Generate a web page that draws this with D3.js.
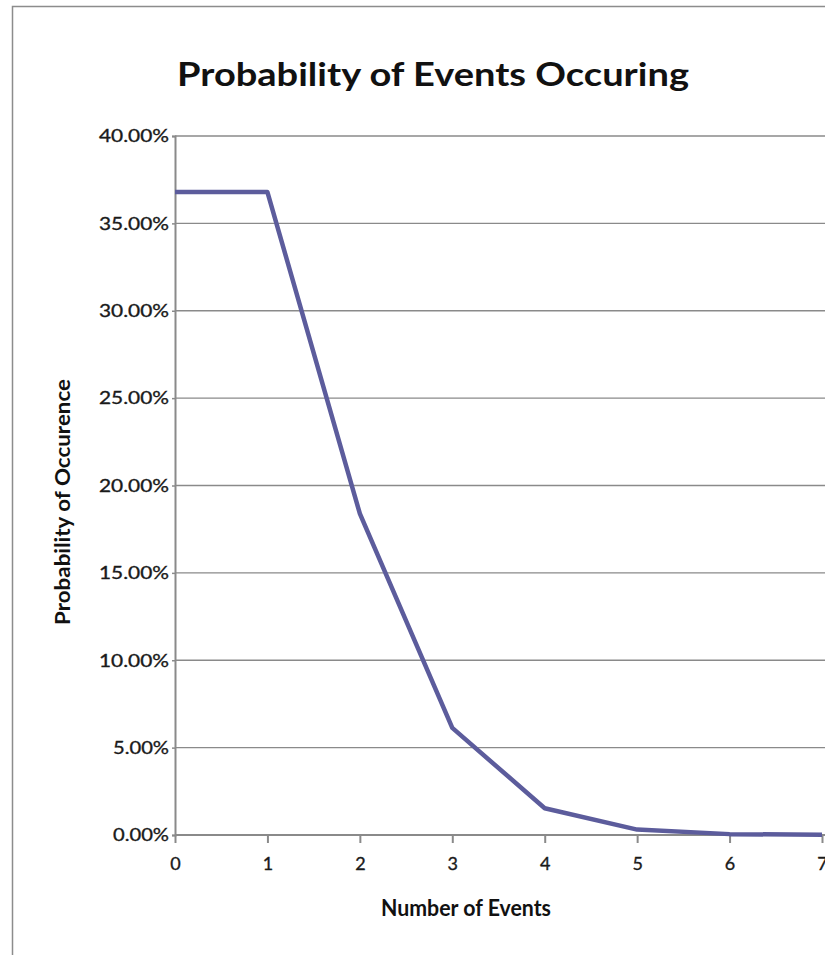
<!DOCTYPE html>
<html>
<head>
<meta charset="utf-8">
<script src="https://cdn.jsdelivr.net/npm/d3@7"></script>
<style>
  html, body { margin: 0; padding: 0; background: #fff; }
  svg { display: block; }
</style>
</head>
<body>
<svg id="chart" width="825" height="955"></svg>
<script>
// Number of events and the probability (%) of each count
const events = [0, 1, 2, 3, 4, 5, 6, 7];
const probability = [36.79, 36.79, 18.39, 6.13, 1.53, 0.31, 0.05, 0.01];
const yTicks = [0, 5, 10, 15, 20, 25, 30, 35, 40];

(function draw() {
  const svg = d3.select("#chart");
  const W = 825;
  const plotLeft = 175, plotRight = 822, plotTop = 136, plotBottom = 835;
  const font = "Lato, sans-serif";

  // Outer frame
  svg.append("rect")
    .attr("x", 12.5).attr("y", 6.5)
    .attr("width", 900).attr("height", 1000)
    .attr("fill", "none").attr("stroke", "#8c8c8c").attr("stroke-width", 1.5);

  const x = d3.scaleLinear().domain([0, 7]).range([plotLeft, plotRight]);
  const y = d3.scaleLinear().domain([0, 40]).range([plotBottom, plotTop]);

  // Horizontal gridlines
  svg.append("g")
    .selectAll("line")
    .data(yTicks)
    .join("line")
    .attr("x1", plotLeft).attr("x2", W)
    .attr("y1", d => y(d)).attr("y2", d => y(d))
    .attr("stroke", "#8a8a8a").attr("stroke-width", 1.4);

  // Y axis
  const yAxis = svg.append("g")
    .attr("transform", `translate(${plotLeft},0)`)
    .call(d3.axisLeft(y).tickValues(yTicks).tickSize(3).tickPadding(3)
      .tickFormat(d => d.toFixed(2) + "%"));
  yAxis.select(".domain").attr("stroke", "#8a8a8a").attr("stroke-width", 2);
  yAxis.selectAll(".tick line").attr("stroke", "#8a8a8a").attr("stroke-width", 1.5);
  yAxis.selectAll("text")
    .attr("font-family", font).attr("font-size", 18)
    .attr("fill", "#1a1a1a").attr("stroke", "#1a1a1a").attr("stroke-width", 0.35)
    .attr("textLength", d => d >= 10 ? 70 : 56)
    .attr("lengthAdjust", "spacingAndGlyphs");

  // X axis
  const xAxis = svg.append("g")
    .attr("transform", `translate(0,${plotBottom})`)
    .call(d3.axisBottom(x).tickValues(events).tickSize(8).tickPadding(14)
      .tickFormat(d3.format("d")));
  xAxis.select(".domain").attr("stroke", "#8a8a8a").attr("stroke-width", 2)
    .attr("d", `M${plotLeft},0H${W}`);
  xAxis.selectAll(".tick line").attr("stroke", "#8a8a8a").attr("stroke-width", 2);
  xAxis.selectAll("text")
    .attr("font-family", font).attr("font-size", 18)
    .attr("fill", "#1a1a1a").attr("stroke", "#1a1a1a").attr("stroke-width", 0.35);

  // Probability line
  const line = d3.line().x((d, i) => x(events[i])).y(d => y(d));
  svg.append("path")
    .datum(probability)
    .attr("d", line)
    .attr("fill", "none")
    .attr("stroke", "#5c5c9c")
    .attr("stroke-width", 4.5)
    .attr("stroke-linejoin", "round");

  // Title
  svg.append("text")
    .attr("x", 433).attr("y", 86)
    .attr("text-anchor", "middle")
    .attr("font-family", font).attr("font-weight", "bold")
    .attr("font-size", 33).attr("fill", "#111")
    .attr("textLength", 512).attr("lengthAdjust", "spacingAndGlyphs")
    .text("Probability of Events Occuring");

  // Axis titles
  svg.append("text")
    .attr("x", 466).attr("y", 916)
    .attr("text-anchor", "middle")
    .attr("font-family", font).attr("font-weight", "bold")
    .attr("font-size", 22).attr("fill", "#111")
    .attr("textLength", 170).attr("lengthAdjust", "spacingAndGlyphs")
    .text("Number of Events");

  svg.append("text")
    .attr("transform", "translate(70,502) rotate(-90)")
    .attr("text-anchor", "middle")
    .attr("font-family", font).attr("font-weight", "bold")
    .attr("font-size", 20).attr("fill", "#111")
    .attr("textLength", 246).attr("lengthAdjust", "spacingAndGlyphs")
    .text("Probability of Occurence");
})();
</script>
</body>
</html>
